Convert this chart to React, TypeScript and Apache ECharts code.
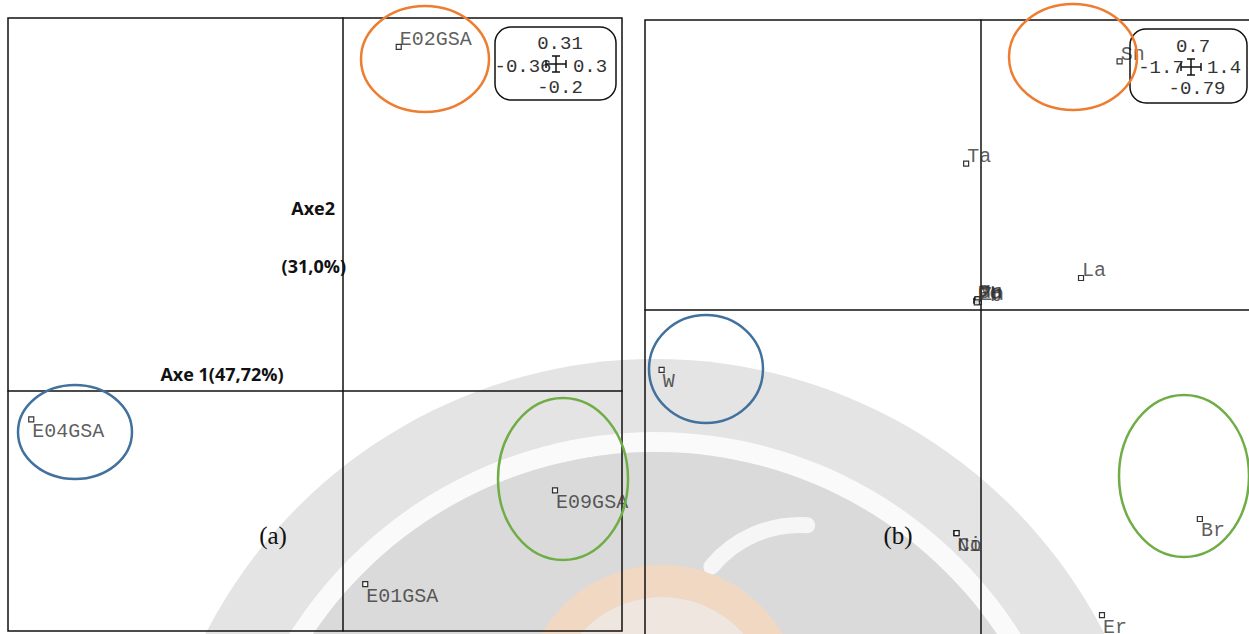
import React, { useEffect, useRef } from "react";
import * as echarts from "echarts";

// Panel (a): individuals
const namesA = ["E02GSA", "E04GSA", "E09GSA", "E01GSA"];
const axis1A = [0.06, -0.335, 0.228, 0.024];
const axis2A = [0.286, -0.024, -0.083, -0.161];
// [xMin, xMax, yMin, yMax]
const limitsA = [-0.36, 0.3, -0.2, 0.31];

// Panel (b): variables
const namesB = ["Sn", "Ta", "La", "Fe", "Cu", "Zn", "Mn", "Pb", "W", "Ni", "Co", "Br", "Er"];
const axis1B = [0.7, -0.076, 0.505, -0.025, -0.02, -0.012, -0.018, -0.022, -1.616, -0.126, -0.124, 1.106, 0.611];
const axis2B = [0.6, 0.353, 0.077, 0.022, 0.024, 0.02, 0.026, 0.018, -0.145, -0.539, -0.539, -0.505, -0.737];
const limitsB = [-1.7, 1.4, -0.79, 0.7];

const axisTitle1 = "Axe 1(47,72%)";
const axisTitle2 = "Axe2";
const axisTitle2b = "(31,0%)";
const panelTags = ["(a)", "(b)"];

const MONO = "'Liberation Mono', 'DejaVu Sans Mono', monospace";

function buildData(names: string[], xs: number[], ys: number[]) {
  return names.map((n, i) => ({
    name: n,
    value: [xs[i], ys[i]],
    label: { offset: ys[i] > 0 ? [-2, -7] : [-2, 12] },
  }));
}

function legendBox(x: number, y: number, w: number, h: number, lim: number[], pos: any) {
  const els: any[] = [];
  els.push({
    type: "rect",
    z: 20,
    shape: { x, y, width: w, height: h, r: 16 },
    style: { fill: "none", stroke: "#111", lineWidth: 1.5 },
  });
  const t = (txt: string, cx: number, cy: number) => ({
    type: "text",
    z: 21,
    x: cx,
    y: cy,
    style: { text: txt, font: `19px ${MONO}`, fill: "#333", align: "center", verticalAlign: "middle" },
  });
  els.push(t(String(lim[3]), pos.top[0], pos.top[1]));
  els.push(t(String(lim[2]), pos.bottom[0], pos.bottom[1]));
  els.push(t(String(lim[0]), pos.left[0], pos.left[1]));
  els.push(t(String(lim[1]), pos.right[0], pos.right[1]));
  const [cx, cy] = pos.cross;
  const ln = (x1: number, y1: number, x2: number, y2: number) => ({
    type: "line",
    z: 22,
    shape: { x1, y1, x2, y2 },
    style: { stroke: "#111", lineWidth: 1.5 },
  });
  els.push(ln(cx - 10, cy, cx + 10, cy));
  els.push(ln(cx, cy - 8, cx, cy + 8));
  els.push(ln(cx - 4, cy - 8, cx + 4, cy - 8));
  els.push(ln(cx - 4, cy + 8, cx + 4, cy + 8));
  els.push(ln(cx - 10, cy - 4, cx - 10, cy + 4));
  els.push(ln(cx + 10, cy - 4, cx + 10, cy + 4));
  return els;
}

export default function App() {
  const ref = useRef<HTMLDivElement>(null);
  useEffect(() => {
    if (!ref.current) return;
    const chart = echarts.init(ref.current, null, { renderer: "svg" });

    const axisCommon = {
      type: "value",
      axisTick: { show: false },
      axisLabel: { show: false },
      splitLine: { show: false },
      axisLine: { show: true, onZero: true, lineStyle: { color: "#111", width: 1.5 } },
    };

    const labelCommon = {
      show: true,
      formatter: "{b}",
      position: "right",
      distance: 0,
      fontFamily: MONO,
      fontSize: 20,
      color: "#333",
    };

    const ellipse = (cx: number, cy: number, rx: number, ry: number, color: string) => ({
      type: "ellipse",
      z: 30,
      shape: { cx, cy, rx, ry },
      style: { fill: "none", stroke: color, lineWidth: 2.5 },
    });

    const text = (txt: string, x: number, y: number, font: string, align = "center") => ({
      type: "text",
      z: 15,
      x,
      y,
      style: { text: txt, font, fill: "#111", align, verticalAlign: "middle" },
    });

    const boldFont = "bold 18px 'Open Sans', 'Liberation Sans', sans-serif";

    const option: any = {
      animation: false,
      backgroundColor: "#fff",
      grid: [
        { left: 8, top: 18, width: 614, height: 613, show: true, borderColor: "#111", borderWidth: 1.5, backgroundColor: "transparent" },
        { left: 645, top: 20, width: 613, height: 617, show: true, borderColor: "#111", borderWidth: 1.5, backgroundColor: "transparent" },
      ],
      xAxis: [
        { ...axisCommon, gridIndex: 0, min: limitsA[0], max: limitsA[1] },
        { ...axisCommon, gridIndex: 1, min: limitsB[0], max: limitsB[1] },
      ],
      yAxis: [
        { ...axisCommon, gridIndex: 0, min: limitsA[2], max: limitsA[3] },
        { ...axisCommon, gridIndex: 1, min: limitsB[2], max: limitsB[3] },
      ],
      series: [
        {
          type: "scatter",
          xAxisIndex: 0,
          yAxisIndex: 0,
          symbol: "rect",
          symbolSize: 5,
          itemStyle: { color: "#fff", borderColor: "#000", borderWidth: 1.2 },
          label: labelCommon,
          data: buildData(namesA, axis1A, axis2A),
          clip: false,
        },
        {
          type: "scatter",
          xAxisIndex: 1,
          yAxisIndex: 1,
          symbol: "rect",
          symbolSize: 5,
          itemStyle: { color: "#fff", borderColor: "#000", borderWidth: 1.2 },
          label: labelCommon,
          data: buildData(namesB, axis1B, axis2B),
          clip: false,
        },
      ],
      graphic: [
        // watermark
        { type: "circle", z: -10, silent: true, shape: { cx: 655, cy: 864, r: 505 }, style: { fill: "#e4e4e4" } },
        { type: "ring", z: -9, silent: true, shape: { cx: 655, cy: 864, r: 432, r0: 412 }, style: { fill: "#fafafa" } },
        { type: "circle", z: -9, silent: true, shape: { cx: 655, cy: 864, r: 412 }, style: { fill: "#dadada" } },
        { type: "arc", z: -8, silent: true, shape: { cx: 800, cy: 640, r: 115, startAngle: Math.PI * 1.22, endAngle: Math.PI * 1.52 }, style: { stroke: "#f6f6f6", lineWidth: 16, fill: "none", lineCap: "round" } },
        { type: "ring", z: -8, silent: true, shape: { cx: 662, cy: 705, r: 140, r0: 108 }, style: { fill: "#f1d8c3" } },
        { type: "circle", z: -8, silent: true, shape: { cx: 662, cy: 705, r: 108 }, style: { fill: "#eee6df" } },
        // axis titles
        text(axisTitle2, 335, 208, boldFont, "right"),
        text(axisTitle2b, 346, 266, boldFont, "right"),
        text(axisTitle1, 222, 374, boldFont, "center"),
        text(panelTags[0], 273, 535, "25px 'Liberation Serif', serif"),
        text(panelTags[1], 898, 535, "25px 'Liberation Serif', serif"),
        // legend boxes
        ...legendBox(495, 27, 121, 73, limitsA, { top: [560, 44], bottom: [560, 88], left: [523, 67], right: [590, 67], cross: [556, 64] }),
        ...legendBox(1130, 29, 117, 74, limitsB, { top: [1193, 47], bottom: [1197, 89], left: [1161, 68], right: [1224, 68], cross: [1191, 67] }),
        // group ellipses
        ellipse(425, 59, 64, 53, "#ED7D31"),
        ellipse(75, 432, 57, 47, "#41719C"),
        ellipse(563, 479, 65, 81, "#70AD47"),
        ellipse(1073, 57, 64, 53, "#ED7D31"),
        ellipse(706, 369, 57, 54, "#41719C"),
        ellipse(1184, 476, 65, 81, "#70AD47"),
      ],
    };
    chart.setOption(option);
    return () => chart.dispose();
  }, []);
  return (
    <div style={{ position: "absolute", left: 0, top: 0, width: 1249, height: 634, overflow: "hidden" }}>
      <div ref={ref} style={{ width: 1280, height: 660 }} />
    </div>
  );
}
